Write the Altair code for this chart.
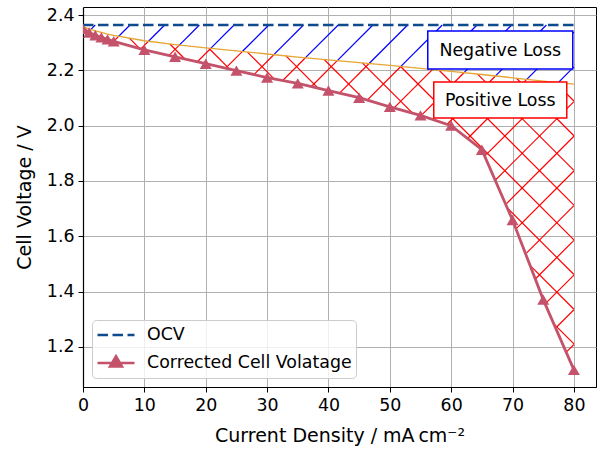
import altair as alt
import pandas as pd
import numpy as np

# ---------------- data ----------------
current = [0, 1, 2, 3, 4, 5, 10, 15, 20, 25, 30, 35, 40, 45, 50, 55, 60, 65, 70, 75, 80]
corrected_v = [2.350, 2.337, 2.327, 2.319, 2.312, 2.305, 2.274, 2.249, 2.224, 2.199,
               2.174, 2.153, 2.127, 2.101, 2.068, 2.037, 2.000, 1.913, 1.659, 1.371, 1.117]
ohmic_free_v = [2.357, 2.350, 2.343, 2.337, 2.331, 2.326, 2.307, 2.293, 2.281, 2.270,
                2.259, 2.248, 2.238, 2.228, 2.218, 2.207, 2.196, 2.185, 2.173, 2.161, 2.150]
ocv_x = [0, 80]
ocv_v = [2.364, 2.364]

series_names = ["OCV", "Corrected Cell Volatage"]
x_ticks = [0, 10, 20, 30, 40, 50, 60, 70, 80]
y_ticks = [1.2, 1.4, 1.6, 1.8, 2.0, 2.2, 2.4]

ann_text = ["Negative Loss", "Positive Loss"]
ann_x = [68.0, 68.0]
ann_v = [2.2735, 2.0928]

# ---------------- styling ----------------
FONT = "DejaVu Sans"
OCV_COLOR = "#0d4a8e"
CELL_COLOR = "#c4526a"
OHM_COLOR = "#e6a532"
X_DOM = [0, 83.6]
Y_DOM = [1.055, 2.429]
W, H = 513, 380
HATCH = 34.7

ann_color = ["#0000ff", "#ff0000"]
ann_box = ["M-1,-0.262H1V0.262H-1Z", "M-1,-0.271H1V0.271H-1Z"]
ann_size = [21025, 17689]

# ---------------- hatch segments (decoration between curves) ----------------
px_per_x = W / (X_DOM[1] - X_DOM[0])
px_per_v = H / (Y_DOM[1] - Y_DOM[0])


def hatch_segments(upper, lower, direction, phase):
    xs = np.linspace(current[0], current[-1], 8001)
    U = np.interp(xs, current, upper)
    L = np.interp(xs, current, lower)
    px = (xs - X_DOM[0]) * px_per_x
    segs = []
    for k in range(-15, 30):
        c = phase + k * HATCH
        py = c - px if direction > 0 else px - c
        v = Y_DOM[1] - py / px_per_v
        m = ((v <= U) & (v >= L)).astype(int)
        idx = np.flatnonzero(np.diff(np.concatenate([[0], m, [0]])))
        for s, e in zip(idx[::2], idx[1::2]):
            if e - 1 > s:
                segs.append(dict(x=xs[s], y=v[s], x2=xs[e - 1], y2=v[e - 1]))
    return pd.DataFrame(segs)


ocv_full = [ocv_v[0]] * len(current)
blue_h = hatch_segments(ocv_full, ohmic_free_v, +1, 30.3)
red_h = pd.concat([hatch_segments(ohmic_free_v, corrected_v, +1, 30.3),
                   hatch_segments(ohmic_free_v, corrected_v, -1, 15.2)])

xs = alt.Scale(domain=X_DOM, nice=False, zero=False)
ys = alt.Scale(domain=Y_DOM, nice=False, zero=False)

x_axis = alt.Axis(values=x_ticks, title="Current Density / mA\u2009cm\u207b\u00b2", format="d", labelFlush=False)
y_axis = alt.Axis(values=y_ticks, title="Cell Voltage / V", format=".1f", labelFlush=False)


def hatch_layer(df, color):
    return alt.Chart(df).mark_rule(color=color, strokeWidth=1.2, clip=True).encode(
        x=alt.X("x:Q", scale=xs, axis=x_axis),
        y=alt.Y("y:Q", scale=ys, axis=y_axis),
        x2="x2:Q", y2="y2:Q")


main_df = pd.DataFrame({"j": current, "v": corrected_v, "vo": ohmic_free_v})
ocv_df = pd.DataFrame({"j": ocv_x, "v": ocv_v})

ohm_line = alt.Chart(main_df).mark_line(color=OHM_COLOR, strokeWidth=1.3, clip=True).encode(
    x=alt.X("j:Q", scale=xs), y=alt.Y("vo:Q", scale=ys))
ocv_line = alt.Chart(ocv_df).mark_line(color=OCV_COLOR, strokeWidth=2.6, strokeDash=[10.5, 4.5], clip=True).encode(
    x=alt.X("j:Q", scale=xs), y=alt.Y("v:Q", scale=ys))
cell_line = alt.Chart(main_df).mark_line(color=CELL_COLOR, strokeWidth=2.8, clip=True).encode(
    x=alt.X("j:Q", scale=xs), y=alt.Y("v:Q", scale=ys))
cell_pts = alt.Chart(main_df).mark_point(shape="triangle-up", filled=True, color=CELL_COLOR,
                                         size=144, opacity=1, clip=True).encode(
    x=alt.X("j:Q", scale=xs), y=alt.Y("v:Q", scale=ys))

ann_layers = []
for t, ax_, av_, col, box, sz in zip(ann_text, ann_x, ann_v, ann_color, ann_box, ann_size):
    d = pd.DataFrame({"j": [ax_], "v": [av_], "t": [t]})
    ann_layers.append(alt.Chart(d).mark_point(shape=box, size=sz, filled=True, fill="white",
                                              stroke=col, strokeWidth=1.5, opacity=1).encode(
        x=alt.X("j:Q", scale=xs), y=alt.Y("v:Q", scale=ys)))
    ann_layers.append(alt.Chart(d).mark_text(font=FONT, fontSize=17.4, color="black",
                                             align="center", baseline="middle", dy=1).encode(
        x=alt.X("j:Q", scale=xs), y=alt.Y("v:Q", scale=ys), text="t:N"))

# legend-only layer (no rows drawn)
LINE_PATH = "M-1,0H1"
LINE_TRI_PATH = "M-1,0H1M0,-0.36L0.32,0.18H-0.32Z"
leg_df = pd.DataFrame({"series": series_names, "j": [0, 0], "v": [2.0, 2.0]})
leg = alt.Legend(title=None, orient="none", legendX=9, legendY=313)
legend_layer = alt.Chart(leg_df).transform_filter("false").mark_point(filled=True, opacity=1).encode(
    x=alt.X("j:Q", scale=xs), y=alt.Y("v:Q", scale=ys),
    fill=alt.Fill("series:N", scale=alt.Scale(domain=series_names, range=[OCV_COLOR, CELL_COLOR]), legend=leg),
    stroke=alt.Stroke("series:N", scale=alt.Scale(domain=series_names, range=[OCV_COLOR, CELL_COLOR]), legend=leg),
    shape=alt.Shape("series:N", scale=alt.Scale(domain=series_names, range=[LINE_PATH, LINE_TRI_PATH]), legend=leg),
    strokeDash=alt.StrokeDash("series:N", scale=alt.Scale(domain=series_names, range=[[10.5, 4.5], [1, 0]]), legend=leg),
)

chart = alt.layer(
    hatch_layer(blue_h, "#0000ff"),
    hatch_layer(red_h, "#ff0000"),
    ohm_line, ocv_line, cell_line, cell_pts,
    *ann_layers,
    legend_layer,
).properties(
    width=W, height=H,
    autosize=alt.AutoSizeParams(type="none"),
    padding={"left": 83, "top": 7, "right": 1, "bottom": 64},
).configure_view(
    stroke="black", strokeWidth=1
).configure_axis(
    grid=True, gridColor="#b0b0b0", gridWidth=1,
    domainColor="black", domainWidth=1.2, tickColor="black", tickSize=5, tickWidth=1,
    labelFont=FONT, labelFontSize=17.4, labelColor="black", labelPadding=4,
    titleFont=FONT, titleFontSize=19, titleColor="black", titleFontWeight="normal",
).configure_axisY(
    titlePadding=12
).configure_axisX(
    titlePadding=13
).configure_legend(
    labelFont=FONT, labelFontSize=17.4, labelColor="black", labelLimit=0,
    symbolSize=1369, symbolStrokeWidth=2.6, labelOffset=11,
    strokeColor="#cccccc", fillColor="rgba(255,255,255,0.8)", cornerRadius=4,
    padding=4, rowPadding=6, clipHeight=22,
)

chart.save("out.html", embed_options={"renderer": "svg", "actions": False})
